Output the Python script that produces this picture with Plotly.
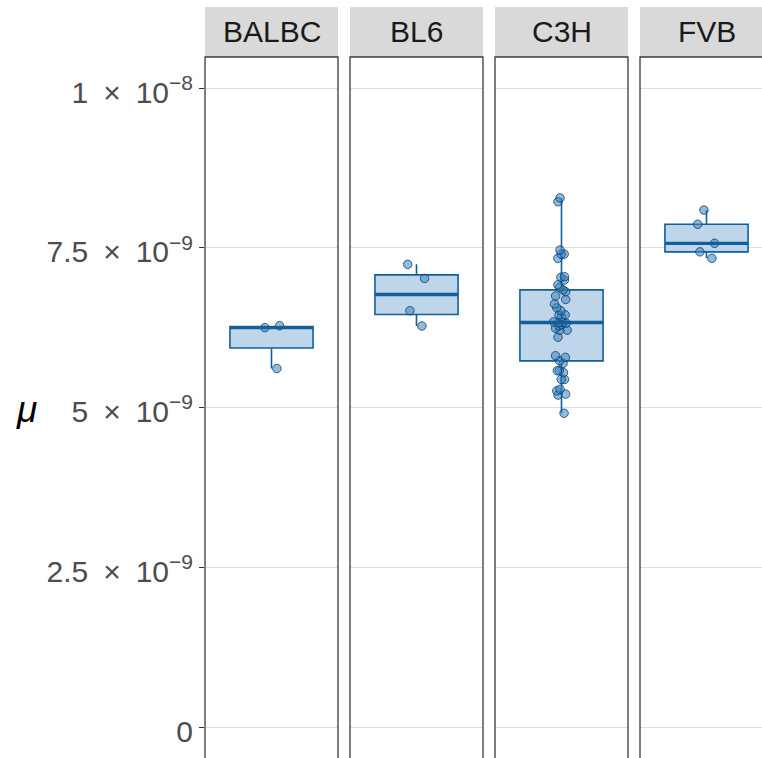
import numpy as np
import plotly.graph_objects as go

# Mutation rate estimates (units of 1e-9) per mouse strain
strains = ["BALBC", "BL6", "C3H", "FVB"]
mu_balbc = [6.25, 6.28, 5.61]
mu_bl6 = [7.24, 7.02, 6.515, 6.275]
mu_c3h = [
    4.91, 5.195, 5.21, 5.26, 5.285, 5.44, 5.44, 5.545, 5.575, 5.575, 5.69,
    5.73,
    5.785, 5.81, 6.10, 6.21, 6.21, 6.24, 6.275, 6.30, 6.32, 6.33,
    6.33,
    6.34, 6.42, 6.45, 6.45, 6.515, 6.56, 6.62, 6.69, 6.745, 6.81,
    6.84,
    6.88, 6.92, 6.995, 7.037, 7.047, 7.335, 7.40, 7.40, 7.465, 8.22, 8.28,
]
mu_fvb = [8.09, 7.867, 7.569, 7.436, 7.335]
scale = 1e-9

SP = "\u2002"
tick_vals = [0, 2.5e-9, 5e-9, 7.5e-9, 1e-8]
tick_text = ["0",
             f"2.5{SP}×{SP}10<sup>−9</sup>",
             f"5{SP}×{SP}10<sup>−9</sup>",
             f"7.5{SP}×{SP}10<sup>−9</sup>",
             f"1{SP}×{SP}10<sup>−8</sup>"]

groups = [mu_balbc, mu_bl6, mu_c3h, mu_fvb]

W, H = 762, 758
L, T = 205, 57
PW = W - L
PH = H - T
panel_px = [(205, 338), (350, 483), (495, 628), (640, 773)]

BOX_W = 0.75
FONT = "Liberation Sans, Arial, sans-serif"
box_line = "#135f9b"
box_fill = "#bfd6ea"
border = "#3a3a3a"

fig = go.Figure()


def ggplot_stats(v):
    v = np.sort(np.asarray(v))
    q1, med, q3 = np.quantile(v, [0.25, 0.5, 0.75])
    iqr = q3 - q1
    lo = v[v >= q1 - 1.5 * iqr].min()
    hi = v[v <= q3 + 1.5 * iqr].max()
    return q1, med, q3, lo, hi


for i, vals in enumerate(groups):
    ax = "" if i == 0 else str(i + 1)
    y = np.asarray(vals) * scale
    q1, med, q3, lo, hi = ggplot_stats(y)
    fig.add_trace(go.Box(
        x=[1], q1=[q1], median=[med], q3=[q3], lowerfence=[lo], upperfence=[hi],
        width=BOX_W, whiskerwidth=0, boxpoints=False,
        fillcolor=box_fill, line=dict(color=box_line, width=1.6),
        xaxis="x" + ax, yaxis="y" + ax, showlegend=False, hoverinfo="skip",
    ))
    # thicker median bar
    fig.add_trace(go.Scatter(
        x=[1 - BOX_W / 2, 1 + BOX_W / 2], y=[med, med], mode="lines",
        line=dict(color=box_line, width=3.4),
        xaxis="x" + ax, yaxis="y" + ax, showlegend=False, hoverinfo="skip",
    ))
    # jittered observations
    fig.add_trace(go.Box(
        y=y, x0=1, width=BOX_W, boxpoints="all", jitter=0.25, pointpos=0,
        fillcolor="rgba(0,0,0,0)", line=dict(color="rgba(0,0,0,0)", width=0),
        marker=dict(size=8.5, color="rgba(52,134,196,0.55)",
                    line=dict(color="rgba(10,50,95,0.75)", width=1)),
        xaxis="x" + ax, yaxis="y" + ax, showlegend=False, hoverinfo="skip",
    ))

layout = dict(
    width=W, height=H,
    margin=dict(l=L, r=0, t=T, b=0, pad=0),
    paper_bgcolor="white", plot_bgcolor="white",
    boxmode="overlay",
    showlegend=False,
)

y_range = [-(H - 727) / 63.9 * scale, (727 - T) / 63.9 * scale]

for i, (x0, x1) in enumerate(panel_px):
    ax = "" if i == 0 else str(i + 1)
    d0 = (x0 - L) / PW
    d1 = min((x1 - L) / PW, 1.0)
    visible_units = (min(x1, W) - x0) / (x1 - x0) * 1.2
    layout["xaxis" + ax] = dict(
        domain=[d0, d1], range=[0.4, 0.4 + visible_units],
        showticklabels=False, showgrid=False, zeroline=False, ticks="",
        showline=False, anchor="y" + ax, fixedrange=True,
    )
    yax = dict(
        range=y_range, anchor="x" + ax, domain=[0, 1],
        tickvals=tick_vals, ticktext=tick_text,
        showgrid=True, gridcolor="#dedede", gridwidth=1.3,
        zeroline=False, showline=False, fixedrange=True,
    )
    if i == 0:
        yax.update(ticks="outside", ticklen=5, tickwidth=1, tickcolor="#333333",
                   showticklabels=True, ticklabelshift=4,
                   tickfont=dict(family=FONT, size=30, color="#4d4d4d"))
    else:
        yax.update(ticks="", showticklabels=False, matches="y")
    layout["yaxis" + ax] = yax

shapes = []
annotations = []
strip_y0 = 1.0
strip_y1 = (H - 7) / PH
for i, (x0, x1) in enumerate(panel_px):
    d0 = (x0 - L) / PW
    d1 = (x1 - L) / PW
    shapes.append(dict(type="rect", xref="paper", yref="paper",
                       x0=d0, x1=d1, y0=strip_y0, y1=strip_y1,
                       fillcolor="#d9d9d9", line=dict(width=0), layer="below"))
    shapes.append(dict(type="rect", xref="paper", yref="paper",
                       x0=d0, x1=d1, y0=-0.02, y1=1.0,
                       fillcolor="rgba(0,0,0,0)",
                       line=dict(color=border, width=1.3), layer="above"))
    annotations.append(dict(
        text=strains[i], xref="paper", yref="paper",
        x=(d0 + d1) / 2, y=(strip_y0 + strip_y1) / 2,
        showarrow=False, xanchor="center", yanchor="middle",
        font=dict(family=FONT, size=30, color="#1a1a1a"),
    ))

annotations.append(dict(
    text="<i>μ</i>", xref="paper", yref="paper",
    x=(26 - L) / PW, y=(H - 409) / PH, showarrow=False,
    xanchor="center", yanchor="middle",
    font=dict(family=FONT, size=37, color="#000000"),
))

layout["shapes"] = shapes
layout["annotations"] = annotations
fig.update_layout(**layout)

fig.write_html("out.html")
